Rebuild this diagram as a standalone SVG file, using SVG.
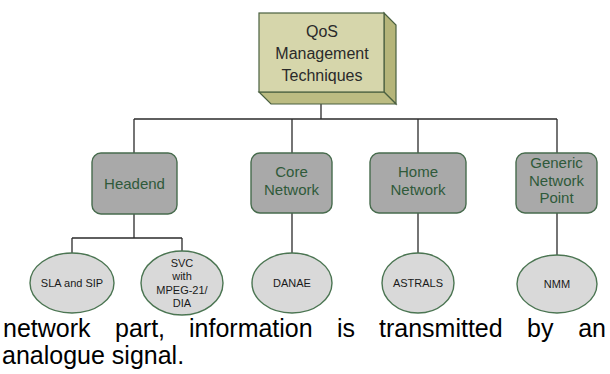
<svg xmlns="http://www.w3.org/2000/svg" width="610" height="374" viewBox="0 0 610 374">
<style>
.conn{stroke:#2b2b2b;stroke-width:1.3;fill:none}
.box{fill:#a9a9a9;stroke:#476b4d;stroke-width:1.4}
.ell{fill:#d9d9d9;stroke:#4b7552;stroke-width:1.4}
.btxt{font-family:"Liberation Sans",Arial,sans-serif;font-size:15px;fill:#2f5a3a;text-anchor:middle}
.etxt{font-family:"Liberation Sans",Arial,sans-serif;font-size:11px;fill:#1a1a1a;text-anchor:middle}
.ttxt{font-family:"Liberation Sans",Arial,sans-serif;font-size:16px;fill:#2a2a2a;text-anchor:middle}
.body{font-family:"Liberation Sans",Arial,sans-serif;font-size:25px;fill:#000}
</style>
<rect width="610" height="374" fill="#ffffff"/>
<g id="connectors">
<path class="conn" d="M321 104V119M134 119H557M134 119V153M292 119V153M418 119V153M557 119V153"/>
<path class="conn" d="M134 214V238M72 238H182M72 238V253M182 238V251"/>
<path class="conn" d="M292 213V253M418 213V253M557 213V255"/>
</g>
<g id="qos">
<polygon points="384,13 396,25 396,104 384,92" fill="#b5b57a" stroke="#4a6040" stroke-width="1.2"/>
<polygon points="259,92 384,92 396,104 271,104" fill="#bcbc82" stroke="#4a6040" stroke-width="1.2"/>
<rect x="259" y="13" width="125" height="79" fill="#d6d6ab" stroke="#4a6040" stroke-width="1.2"/>
<text class="ttxt" x="322" y="37">QoS</text>
<text class="ttxt" x="322" y="59">Management</text>
<text class="ttxt" x="322" y="81">Techniques</text>
</g>
<g id="headend">
<rect class="box" x="92" y="153" width="85" height="61" rx="9"/>
<text class="btxt" x="134.5" y="189">Headend</text>
</g>
<g id="core">
<rect class="box" x="251" y="153" width="81" height="60" rx="9"/>
<text class="btxt" x="291.5" y="177">Core</text>
<text class="btxt" x="291.5" y="195">Network</text>
</g>
<g id="home">
<rect class="box" x="370" y="153" width="96" height="60" rx="9"/>
<text class="btxt" x="418" y="177">Home</text>
<text class="btxt" x="418" y="195">Network</text>
</g>
<g id="generic">
<rect class="box" x="516" y="153" width="81" height="60" rx="9"/>
<text class="btxt" x="556.5" y="168">Generic</text>
<text class="btxt" x="556.5" y="186">Network</text>
<text class="btxt" x="556.5" y="203">Point</text>
</g>
<g id="sla">
<ellipse class="ell" cx="72" cy="283" rx="42" ry="30"/>
<text class="etxt" x="72" y="287">SLA and SIP</text>
</g>
<g id="svc">
<ellipse class="ell" cx="182" cy="283" rx="41" ry="32"/>
<text class="etxt" x="182" y="267">SVC</text>
<text class="etxt" x="182" y="280">with</text>
<text class="etxt" x="182" y="294">MPEG-21/</text>
<text class="etxt" x="182" y="307">DIA</text>
</g>
<g id="danae">
<ellipse class="ell" cx="292" cy="283" rx="40" ry="30"/>
<text class="etxt" x="292" y="287">DANAE</text>
</g>
<g id="astrals">
<ellipse class="ell" cx="418" cy="283" rx="36" ry="30"/>
<text class="etxt" x="418" y="287">ASTRALS</text>
</g>
<g id="nmm">
<ellipse class="ell" cx="557" cy="284" rx="40" ry="29"/>
<text class="etxt" x="557" y="288">NMM</text>
</g>
<text class="body" y="337"><tspan x="3">network</tspan><tspan x="115">part,</tspan><tspan x="189">information</tspan><tspan x="337">is</tspan><tspan x="379">transmitted</tspan><tspan x="527">by</tspan><tspan x="606" text-anchor="end">an</tspan></text>
<text class="body" x="2" y="364">analogue signal.</text>
</svg>
